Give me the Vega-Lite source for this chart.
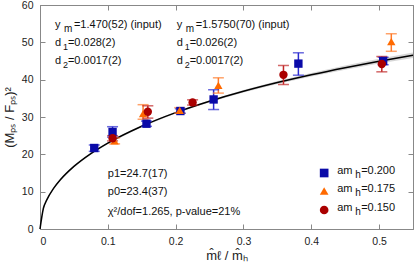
{
  "$schema": "https://vega.github.io/schema/vega-lite/v6.json",
  "autosize": {"type": "none"},
  "width": 373,
  "height": 224,
  "padding": {"left": 40, "top": 5, "right": 2, "bottom": 38},
  "background": "white",
  "config": {
    "font": "Liberation Sans",
    "view": {"stroke": "#888", "strokeWidth": 1},
    "axis": {"grid": false, "domainColor": "#888", "tickColor": "#888", "tickSize": -5, "labelFontSize": 10.5, "labelColor": "#222", "titleColor": "#222", "titleFontWeight": "normal", "titleFontSize": 13}
  },
  "datasets": {
    "pts": [
      {"s": "0.200", "x": 0.080, "y": 21.7, "lo": 20.8, "hi": 22.5},
      {"s": "0.200", "x": 0.107, "y": 26.0, "lo": 24.6, "hi": 27.4},
      {"s": "0.200", "x": 0.157, "y": 28.2, "lo": 27.5, "hi": 28.9},
      {"s": "0.200", "x": 0.207, "y": 31.6, "lo": 31.0, "hi": 32.2},
      {"s": "0.200", "x": 0.256, "y": 34.7, "lo": 32.0, "hi": 37.3},
      {"s": "0.200", "x": 0.381, "y": 44.3, "lo": 41.2, "hi": 47.2},
      {"s": "0.200", "x": 0.506, "y": 45.0, "lo": 44.0, "hi": 46.0},
      {"s": "0.175", "x": 0.110, "y": 23.6, "lo": 22.8, "hi": 24.4},
      {"s": "0.175", "x": 0.152, "y": 30.9, "lo": 29.4, "hi": 33.3},
      {"s": "0.175", "x": 0.206, "y": 31.8, "lo": 31.1, "hi": 32.5},
      {"s": "0.175", "x": 0.263, "y": 38.5, "lo": 36.4, "hi": 40.5},
      {"s": "0.175", "x": 0.518, "y": 50.2, "lo": 47.6, "hi": 52.3},
      {"s": "0.150", "x": 0.107, "y": 24.3, "lo": 23.6, "hi": 25.0},
      {"s": "0.150", "x": 0.159, "y": 31.4, "lo": 29.7, "hi": 33.0},
      {"s": "0.150", "x": 0.225, "y": 33.9, "lo": 33.2, "hi": 34.6},
      {"s": "0.150", "x": 0.359, "y": 41.3, "lo": 38.7, "hi": 43.8},
      {"s": "0.150", "x": 0.504, "y": 44.2, "lo": 42.1, "hi": 46.2}
    ],
    "curve": [
      {"x": 0.0, "y": 0.0, "lo": 0.0, "hi": 0.0},
      {"x": 0.005, "y": 5.55, "lo": 5.45, "hi": 5.65},
      {"x": 0.01, "y": 7.79, "lo": 7.65, "hi": 7.93},
      {"x": 0.02, "y": 10.87, "lo": 10.7, "hi": 11.05},
      {"x": 0.03, "y": 13.18, "lo": 13.0, "hi": 13.36},
      {"x": 0.05, "y": 16.76, "lo": 16.55, "hi": 16.97},
      {"x": 0.075, "y": 20.2, "lo": 19.98, "hi": 20.42},
      {"x": 0.1, "y": 23.01, "lo": 22.78, "hi": 23.24},
      {"x": 0.15, "y": 27.53, "lo": 27.3, "hi": 27.76},
      {"x": 0.2, "y": 31.17, "lo": 30.93, "hi": 31.41},
      {"x": 0.25, "y": 34.22, "lo": 33.95, "hi": 34.49},
      {"x": 0.3, "y": 36.88, "lo": 36.55, "hi": 37.21},
      {"x": 0.35, "y": 39.22, "lo": 38.82, "hi": 39.62},
      {"x": 0.4, "y": 41.32, "lo": 40.85, "hi": 41.79},
      {"x": 0.45, "y": 43.22, "lo": 42.66, "hi": 43.78},
      {"x": 0.5, "y": 44.96, "lo": 44.32, "hi": 45.6},
      {"x": 0.55, "y": 46.55, "lo": 45.8, "hi": 47.3}
    ],
    "ynotes": [
      {"tx": 0.022, "ty": 53.9, "a": "y", "sub": "m", "rest": "=1.470(52) (input)"},
      {"tx": 0.2015, "ty": 53.9, "a": "y", "sub": "m", "rest": "=1.5750(70) (input)"}
    ],
    "dnotes": [
      {"tx": 0.022, "ty": 49.1, "a": "d", "sub": "1", "rest": "=0.028(2)"},
      {"tx": 0.022, "ty": 44.3, "a": "d", "sub": "2", "rest": "=0.0017(2)"},
      {"tx": 0.2015, "ty": 49.1, "a": "d", "sub": "1", "rest": "=0.026(2)"},
      {"tx": 0.2015, "ty": 44.3, "a": "d", "sub": "2", "rest": "=0.0017(2)"}
    ],
    "pnotes": [
      {"tx": 0.1, "ty": 13.9, "t": "p1=24.7(17)"},
      {"tx": 0.1, "ty": 9.0, "t": "p0=23.4(37)"},
      {"tx": 0.1, "ty": 3.8, "t": "χ²/dof=1.265, p-value=21%"}
    ],
    "leg": [
      {"s": "0.200", "lx": 0.419, "ly": 15.0, "a": "am", "sub": "h", "rest": "=0.200"},
      {"s": "0.175", "lx": 0.419, "ly": 10.2, "a": "am", "sub": "h", "rest": "=0.175"},
      {"s": "0.150", "lx": 0.419, "ly": 5.1, "a": "am", "sub": "h", "rest": "=0.150"}
    ]
  },
  "resolve": {"axis": {"x": "independent", "y": "independent"}, "scale": {"color": "independent"}},
  "layer": [
    {
      "data": {"name": "curve"},
      "mark": {"type": "area", "color": "#bbbbbb", "opacity": 0.6},
      "encoding": {
        "x": {"field": "x", "type": "quantitative", "scale": {"domain": [0, 0.55], "nice": false}, "axis": {"orient": "top", "labels": false, "title": null, "values": [0.1, 0.2, 0.3, 0.4, 0.5]}},
        "y": {"field": "lo", "type": "quantitative", "scale": {"domain": [0, 60], "nice": false}, "axis": {"orient": "right", "labels": false, "title": null, "values": [10, 20, 30, 40, 50]}},
        "y2": {"field": "hi"}
      }
    },
    {
      "data": {"name": "curve"},
      "mark": {"type": "line", "color": "black", "strokeWidth": 1.5, "interpolate": "monotone"},
      "encoding": {
        "x": {"field": "x", "type": "quantitative", "axis": {"orient": "bottom", "values": [0, 0.1, 0.2, 0.3, 0.4, 0.5], "format": "~g", "labelPadding": 12, "title": "m̂ℓ / m̂ₕ", "titlePadding": 3}},
        "y": {"field": "y", "type": "quantitative", "axis": {"orient": "left", "values": [0, 10, 20, 30, 40, 50, 60], "labelPadding": 12, "title": "(Mₚₛ / Fₚₛ)²", "titlePadding": 5}}
      }
    },
    {
      "data": {"name": "pts"},
      "mark": {"type": "rule", "strokeWidth": 1.5},
      "encoding": {
        "x": {"field": "x", "type": "quantitative", "axis": null},
        "y": {"field": "lo", "type": "quantitative", "axis": null},
        "y2": {"field": "hi"},
        "color": {"field": "s", "type": "nominal", "scale": {"domain": ["0.200", "0.175", "0.150"], "range": ["#2b2bd0", "#ff7a2a", "#c02828"]}, "legend": null}
      }
    },
    {
      "data": {"name": "pts"},
      "mark": {"type": "tick", "orient": "horizontal", "size": 11, "thickness": 1.5},
      "encoding": {
        "x": {"field": "x", "type": "quantitative", "axis": null},
        "y": {"field": "lo", "type": "quantitative", "axis": null},
        "color": {"field": "s", "type": "nominal", "scale": {"domain": ["0.200", "0.175", "0.150"], "range": ["#2b2bd0", "#ff7a2a", "#c02828"]}, "legend": null}
      }
    },
    {
      "data": {"name": "pts"},
      "mark": {"type": "tick", "orient": "horizontal", "size": 11, "thickness": 1.5},
      "encoding": {
        "x": {"field": "x", "type": "quantitative", "axis": null},
        "y": {"field": "hi", "type": "quantitative", "axis": null},
        "color": {"field": "s", "type": "nominal", "scale": {"domain": ["0.200", "0.175", "0.150"], "range": ["#2b2bd0", "#ff7a2a", "#c02828"]}, "legend": null}
      }
    },
    {
      "data": {"name": "pts"},
      "mark": {"type": "point", "filled": true, "opacity": 1, "size": 70},
      "encoding": {
        "x": {"field": "x", "type": "quantitative", "axis": null},
        "y": {"field": "y", "type": "quantitative", "axis": null},
        "shape": {"field": "s", "type": "nominal", "scale": {"domain": ["0.200", "0.175", "0.150"], "range": ["square", "triangle-up", "circle"]}, "legend": null},
        "color": {"field": "s", "type": "nominal", "scale": {"domain": ["0.200", "0.175", "0.150"], "range": ["#0a0aa8", "#ff6a00", "#aa0000"]}, "legend": null}
      }
    },
    {
      "data": {"name": "leg"},
      "mark": {"type": "point", "filled": true, "opacity": 1, "size": 75},
      "encoding": {
        "x": {"field": "lx", "type": "quantitative", "axis": null},
        "y": {"field": "ly", "type": "quantitative", "axis": null},
        "shape": {"field": "s", "type": "nominal", "scale": {"domain": ["0.200", "0.175", "0.150"], "range": ["square", "triangle-up", "circle"]}, "legend": null},
        "color": {"field": "s", "type": "nominal", "scale": {"domain": ["0.200", "0.175", "0.150"], "range": ["#0a0aa8", "#ff6a00", "#aa0000"]}, "legend": null}
      }
    },
    {
      "data": {"name": "leg"},
      "mark": {"type": "text", "align": "left", "baseline": "alphabetic", "fontSize": 11, "color": "#111", "dx": 13, "dy": 1},
      "encoding": {
        "x": {"field": "lx", "type": "quantitative", "axis": null},
        "y": {"field": "ly", "type": "quantitative", "axis": null},
        "text": {"field": "a"}
      }
    },
    {
      "data": {"name": "leg"},
      "mark": {"type": "text", "align": "left", "baseline": "alphabetic", "fontSize": 10, "color": "#111", "dx": 31, "dy": 5},
      "encoding": {
        "x": {"field": "lx", "type": "quantitative", "axis": null},
        "y": {"field": "ly", "type": "quantitative", "axis": null},
        "text": {"field": "sub"}
      }
    },
    {
      "data": {"name": "leg"},
      "mark": {"type": "text", "align": "left", "baseline": "alphabetic", "fontSize": 11, "color": "#111", "dx": 37, "dy": 1},
      "encoding": {
        "x": {"field": "lx", "type": "quantitative", "axis": null},
        "y": {"field": "ly", "type": "quantitative", "axis": null},
        "text": {"field": "rest"}
      }
    },
    {
      "data": {"name": "ynotes"},
      "mark": {"type": "text", "align": "left", "baseline": "alphabetic", "fontSize": 11, "color": "#111"},
      "encoding": {
        "x": {"field": "tx", "type": "quantitative", "axis": null},
        "y": {"field": "ty", "type": "quantitative", "axis": null},
        "text": {"field": "a"}
      }
    },
    {
      "data": {"name": "ynotes"},
      "mark": {"type": "text", "align": "left", "baseline": "alphabetic", "fontSize": 10, "color": "#111", "dx": 9, "dy": 4},
      "encoding": {
        "x": {"field": "tx", "type": "quantitative", "axis": null},
        "y": {"field": "ty", "type": "quantitative", "axis": null},
        "text": {"field": "sub"}
      }
    },
    {
      "data": {"name": "ynotes"},
      "mark": {"type": "text", "align": "left", "baseline": "alphabetic", "fontSize": 11, "color": "#111", "dx": 19},
      "encoding": {
        "x": {"field": "tx", "type": "quantitative", "axis": null},
        "y": {"field": "ty", "type": "quantitative", "axis": null},
        "text": {"field": "rest"}
      }
    },
    {
      "data": {"name": "dnotes"},
      "mark": {"type": "text", "align": "left", "baseline": "alphabetic", "fontSize": 11, "color": "#111"},
      "encoding": {
        "x": {"field": "tx", "type": "quantitative", "axis": null},
        "y": {"field": "ty", "type": "quantitative", "axis": null},
        "text": {"field": "a"}
      }
    },
    {
      "data": {"name": "dnotes"},
      "mark": {"type": "text", "align": "left", "baseline": "alphabetic", "fontSize": 9, "color": "#111", "dx": 8, "dy": 4},
      "encoding": {
        "x": {"field": "tx", "type": "quantitative", "axis": null},
        "y": {"field": "ty", "type": "quantitative", "axis": null},
        "text": {"field": "sub"}
      }
    },
    {
      "data": {"name": "dnotes"},
      "mark": {"type": "text", "align": "left", "baseline": "alphabetic", "fontSize": 11, "color": "#111", "dx": 13},
      "encoding": {
        "x": {"field": "tx", "type": "quantitative", "axis": null},
        "y": {"field": "ty", "type": "quantitative", "axis": null},
        "text": {"field": "rest"}
      }
    },
    {
      "data": {"name": "pnotes"},
      "mark": {"type": "text", "align": "left", "baseline": "alphabetic", "fontSize": 11, "color": "#111"},
      "encoding": {
        "x": {"field": "tx", "type": "quantitative", "axis": null},
        "y": {"field": "ty", "type": "quantitative", "axis": null},
        "text": {"field": "t"}
      }
    }
  ]
}
